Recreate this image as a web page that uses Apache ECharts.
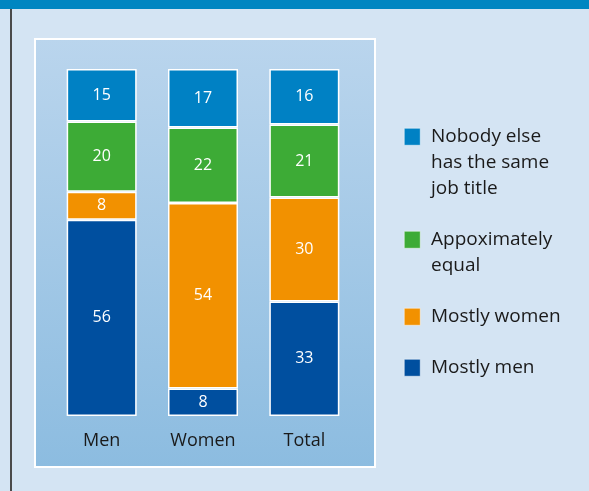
<!DOCTYPE html>
<html><head><meta charset="utf-8">
<script src="https://cdn.jsdelivr.net/npm/echarts@6/dist/echarts.min.js"></script>
<style>html,body{margin:0;padding:0;background:#d4e4f3}#c{width:589px;height:491px}</style>
</head><body><div id="c"></div>
<script>
const categories = ['Men', 'Women', 'Total'];
const mostlyMen = [56, 8, 33];
const mostlyWomen = [8, 54, 30];
const approxEqual = [20, 22, 21];
const nobodyElse = [15, 17, 16];
const seriesNames = ['Mostly men', 'Mostly women', 'Appoximately equal', 'Nobody else has the same job title'];
const legendLabels = ['Nobody else\nhas the same\njob title', 'Appoximately\nequal', 'Mostly women', 'Mostly men'];
const colors = ['#004f9f', '#f29100', '#3dab36', '#0081c4'];

const FONT = 'Open Sans';
const allSeries = [mostlyMen, mostlyWomen, approxEqual, nobodyElse];
const totals = categories.map((c, i) => allSeries.reduce((s, a) => s + a[i], 0));

const series = allSeries.map((arr, k) => ({
  name: seriesNames[k],
  type: 'bar',
  stack: 'all',
  barWidth: 70,
  data: arr.map((v, i) => ({ value: v / totals[i] * 100, raw: v })),
  itemStyle: { color: colors[k], borderColor: '#ffffff', borderWidth: 1.5 },
  label: {
    show: true, position: 'inside', color: '#ffffff', fontSize: 16, fontFamily: FONT,
    formatter: p => String(p.data.raw)
  }
}));

const legendGraphics = [];
let y = 124;
legendLabels.forEach((lab, i) => {
  const col = colors[colors.length - 1 - i];
  const lines = lab.split('\n').length;
  legendGraphics.push({ type: 'rect', left: 404, top: y + 4, shape: { width: 16, height: 17 }, style: { fill: col, stroke: '#ffffff', lineWidth: 0.5 } });
  legendGraphics.push({ type: 'text', left: 431, top: y, style: { text: lab, fill: '#1a1a1a', font: '19px "' + FONT + '"', lineHeight: 26 } });
  y += lines * 26 + 25;
});

const chart = echarts.init(document.getElementById('c'), null, { renderer: 'canvas' });
chart.setOption({
  backgroundColor: '#d4e4f3',
  animation: false,
  graphic: [
    { type: 'rect', left: 0, top: 0, shape: { width: 589, height: 9 }, style: { fill: '#0086c1' }, z: -10 },
    { type: 'rect', left: 10, top: 9, shape: { width: 2, height: 482 }, style: { fill: '#4a4a4a' }, z: -10 },
    { type: 'rect', left: 34, top: 38, shape: { width: 340, height: 428 },
      style: { fill: new echarts.graphic.LinearGradient(0, 0, 0, 1, [{ offset: 0, color: '#bad5ed' }, { offset: 1, color: '#8cbce0' }]), stroke: '#ffffff', lineWidth: 2 }, z: -10 },
    ...legendGraphics
  ],
  grid: { left: 51, top: 69, width: 304, height: 347 },
  xAxis: {
    type: 'category', data: categories,
    axisLine: { show: false }, axisTick: { show: false },
    axisLabel: { color: '#1a1a1a', fontSize: 18, fontFamily: FONT, margin: 16 }
  },
  yAxis: { type: 'value', min: 0, max: 100, show: false, splitLine: { show: false } },
  series: series
});
</script></body></html>
